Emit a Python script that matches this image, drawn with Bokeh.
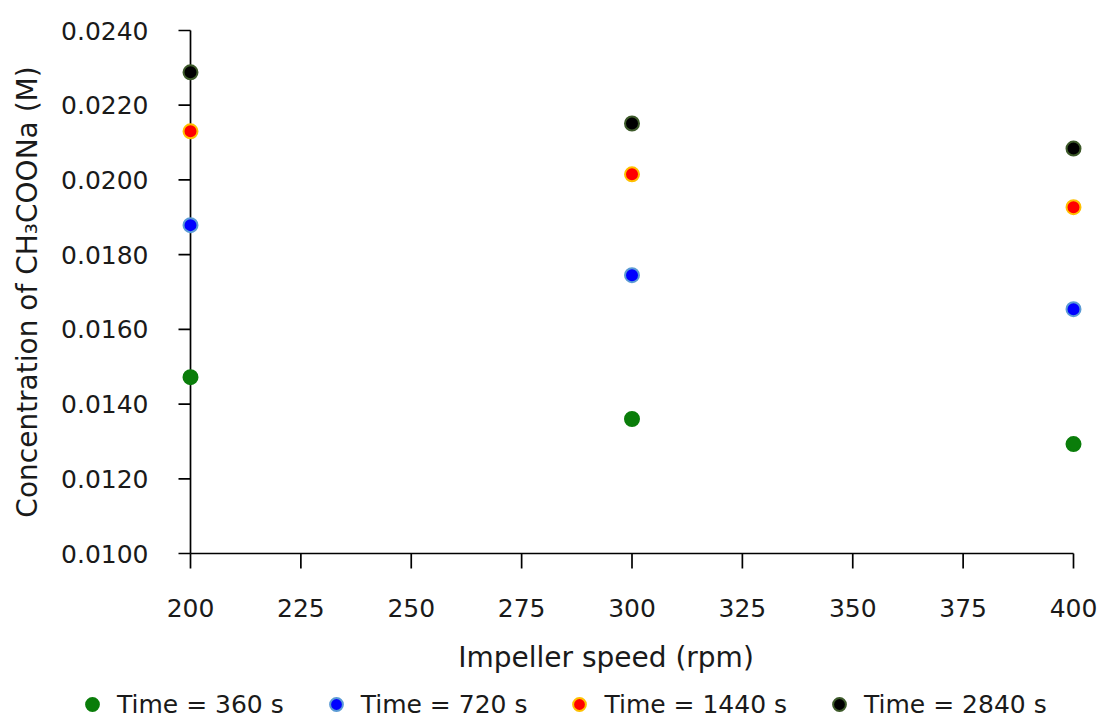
import math
from bokeh.plotting import figure
from bokeh.models import Legend, LegendItem, Range1d
from bokeh.core.properties import value
from bokeh.embed import file_html
from bokeh.resources import INLINE

# Impeller speed (rpm) and measured CH3COONa concentration (M) at each sampling time
speed = [200, 300, 400]
conc_360 = [0.01472, 0.01360, 0.01293]
conc_720 = [0.01879, 0.01745, 0.01654]
conc_1440 = [0.02130, 0.02015, 0.01927]
conc_2840 = [0.02288, 0.02151, 0.02084]

series_labels = ["Time = 360 s", "Time = 720 s", "Time = 1440 s", "Time = 2840 s"]
x_ticks = [200, 225, 250, 275, 300, 325, 350, 375, 400]
y_ticks = [0.010, 0.012, 0.014, 0.016, 0.018, 0.020, 0.022, 0.024]
x_tick_labels = [str(v) for v in x_ticks]
y_tick_labels = [f"{v:.4f}" for v in y_ticks]
x_title = "Impeller speed (rpm)"
y_title = "Concentration of CH\u2083COONa (M)"

FONT = "DejaVu Sans"
TEXT = "#1a1a1a"
AXIS_W = 1.7
W, H = 1100, 722

# The data frame fills the whole canvas; the axis block occupies
# px 190..1073 horizontally and px 30..553 vertically.
AX_L, AX_R, AX_T, AX_B = 190, 1073, 30, 553
x0, x1 = x_ticks[0], x_ticks[-1]
y0, y1 = y_ticks[0], y_ticks[-1]
kx = (AX_R - AX_L) / (x1 - x0)
ky = (AX_B - AX_T) / (y1 - y0)

p = figure(width=W, height=H, output_backend="svg", toolbar_location=None,
           x_range=Range1d(x0 - AX_L / kx, x1 + (W - AX_R) / kx),
           y_range=Range1d(y0 - (H - AX_B) / ky, y1 + AX_T / ky),
           min_border=0)
p.axis.visible = False
p.grid.visible = False
p.outline_line_color = None
p.background_fill_color = "white"
p.border_fill_color = "white"

# axis lines
p.segment(x0=[x0, x0], y0=[y0, y0], x1=[x1, x0], y1=[y0, y1],
          line_color="black", line_width=AXIS_W)
# outward tick marks
p.ray(x=[x0] * len(y_ticks), y=y_ticks, length=12, length_units="screen",
      angle=math.pi, line_color="black", line_width=AXIS_W)
p.ray(x=x_ticks, y=[y0] * len(x_ticks), length=15, length_units="screen",
      angle=-math.pi / 2, line_color="black", line_width=AXIS_W)

# tick labels
p.text(x=[x0] * len(y_ticks), y=y_ticks, text=y_tick_labels, x_offset=-42,
       text_align="right", text_baseline="middle", text_font=value(FONT),
       text_font_size=value("25px"), text_color=TEXT)
p.text(x=x_ticks, y=[y0] * len(x_ticks), text=x_tick_labels, y_offset=54,
       text_align="center", text_baseline="middle", text_font=value(FONT),
       text_font_size=value("25px"), text_color=TEXT)

# axis titles
p.text(x=[(x0 + x1) / 2], y=[y0], text=[x_title], x_offset=-26, y_offset=104,
       text_align="center", text_baseline="middle", text_font=value(FONT),
       text_font_size=value("28px"), text_color=TEXT)
p.text(x=[x0], y=[(y0 + y1) / 2], text=[y_title], x_offset=-163, angle=math.pi / 2,
       text_align="center", text_baseline="middle", text_font=value(FONT),
       text_font_size=value("28px"), text_color=TEXT)

styles = [
    (conc_360, "#0a7d0a", "#0a7d0a"),
    (conc_720, "#0000ff", "#5b9bd5"),
    (conc_1440, "#ff0000", "#ffc000"),
    (conc_2840, "#000000", "#3d5a2a"),
]
renderers = []
for vals, fill, line in styles:
    r = p.scatter(speed, vals, size=14, fill_color=fill, line_color=line, line_width=2)
    renderers.append(r)

legend = Legend(
    items=[LegendItem(label=lab, renderers=[r]) for lab, r in zip(series_labels, renderers)],
    orientation="horizontal", location=(76, 2),
    glyph_width=32, glyph_height=32, label_standoff=9, spacing=36,
    padding=0, margin=0, border_line_color=None, background_fill_alpha=0,
    label_text_font=FONT, label_text_font_size="25px", label_text_color=TEXT,
)
p.add_layout(legend, "center")

open("out.html", "w").write(file_html(p, INLINE))
